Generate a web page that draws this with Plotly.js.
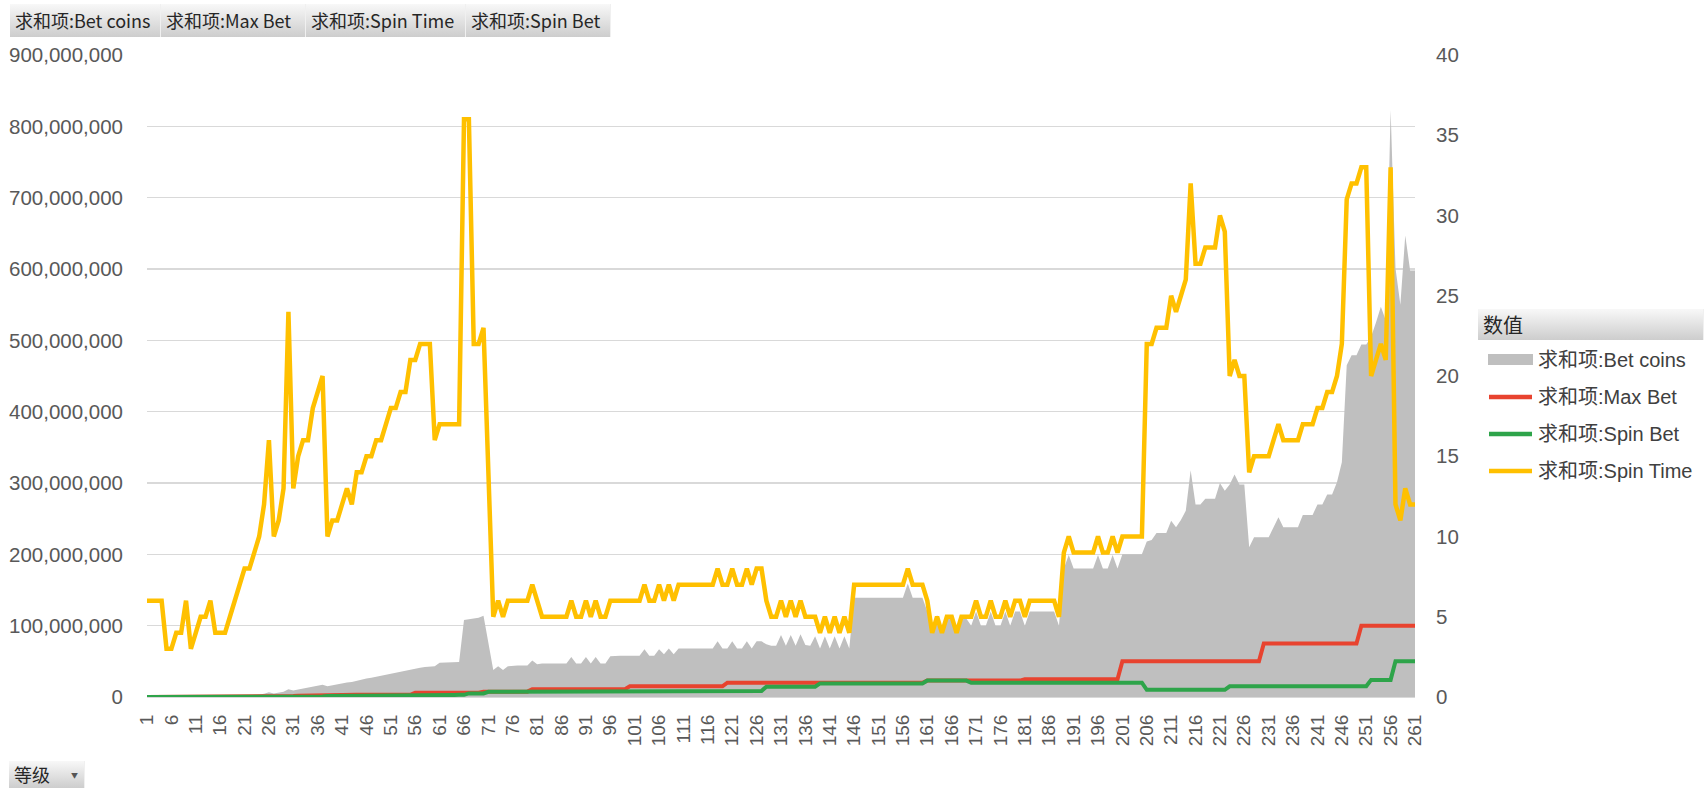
<!DOCTYPE html>
<html><head><meta charset="utf-8">
<script src="https://cdn.plot.ly/plotly-3.0.1.min.js"></script>
<style>
html,body{margin:0;padding:0;background:#fff;}
#wrap{position:relative;width:1704px;height:788px;overflow:hidden;}
#chart{position:absolute;left:0;top:0;width:1704px;height:788px;}
.btn{position:absolute;box-sizing:border-box;background:linear-gradient(#f8f8f8,#cdcdcd);border-right:1px solid #f0f0f0;font-family:"Noto Sans CJK SC","Liberation Sans",sans-serif;font-size:18px;color:#262626;padding-left:5px;white-space:nowrap;}
</style></head>
<body><div id="wrap"><div id="chart"></div>
<div class="btn" style="left:10px;top:4px;width:151px;height:33px;line-height:33px;">求和项:Bet coins</div>
<div class="btn" style="left:161px;top:4px;width:145px;height:33px;line-height:33px;">求和项:Max Bet</div>
<div class="btn" style="left:306px;top:4px;width:160px;height:33px;line-height:33px;">求和项:Spin Time</div>
<div class="btn" style="left:466px;top:4px;width:145px;height:33px;line-height:33px;">求和项:Spin Bet</div>
<div class="btn" style="left:1478px;top:309px;width:226px;height:31px;line-height:31px;font-size:20px;">数值</div>
<div class="btn" style="left:9px;top:761px;width:76px;height:27px;line-height:27px;">等级<span style="position:absolute;left:62px;top:1px;font-size:7px;color:#555;">▼</span></div>
</div>
<script>
// categories: levels 1..261
const levels = [];
for (let i = 1; i <= 261; i++) levels.push(i);
const tickVals = [];
for (let i = 1; i <= 261; i += 5) tickVals.push(i);
const tickText = tickVals.map(String);

const seriesNames = ['求和项:Bet coins', '求和项:Max Bet', '求和项:Spin Bet', '求和项:Spin Time'];
const seriesColors = ['#bfbfbf', '#e8432f', '#2ea44a', '#ffc000'];

// Bet coins (millions)
const betCoinsM = [
0.3,0.3,0.3,0.4,0.2,0.2,0.3,0.3,0.5,0.3,
0.4,0.5,0.6,0.7,0.5,0.6,0.7,0.9,1.1,1.4,
1.8,2.2,2.8,3.5,4.5,6.5,5,6,7.5,11,
9,10.5,12,13,14.5,16,17,15,16.5,17.5,
19,20.5,21,23,24,26,27,28.5,29.5,31,
33,34,35.5,37,38.5,40,41,42,42.5,43,
48,48,48.5,49,49,108,109,110,111,114,
75,38,43,38,43,44,44,44,44,51,
46,47,47,47,47,47,47,56,47,47,
56,47,56,47,47,57,58,58,58,58,
58,58,67,58,58,67,60,68,60,68,
68,68,68,68,68,68,68,78,68,68,
78,68,68,78,68,78,78,74,72,72,
87,72,87,72,88,73,72,85,68,85,
68,85,68,85,68,139,139,139,139,139,
139,139,139,139,139,139,159,139,139,139,
120,96,115,96,115,115,96,110,110,100,
120,100,100,120,100,100,120,100,120,120,
100,120,120,120,120,120,120,100,180,199,
180,180,180,180,180,199,180,180,199,180,
200,200,200,200,200,218,220,230,230,230,
247,238,248,261,318,270,270,278,278,278,
300,289,298,312,298,298,210,224,224,224,
224,238,252,238,238,238,238,255,255,255,
270,270,284,284,301,329,465,479,479,494,
494,505,525,547,528,823,601,550,647,598,598];

// Max Bet (millions)
const maxBetM = [
0.1,0.1,0.1,0.1,0.1,0.1,0.1,0.1,0.1,0.1,
0.2,0.2,0.2,0.2,0.2,0.2,0.2,0.2,0.2,0.2,
0.5,0.5,0.6,0.7,0.8,1,1,1.2,1.3,1.5,
1.5,1.8,2,2,2,2.2,2.4,2.5,2.5,2.5,
3,3,3,3,3,3,3,3,3,3,
3,3,3,3,3,6,6,6,6,6,
6,6,6,6,6,6,6,6,6,7.5,
7.5,7.5,7.5,7.5,7.5,7.5,7.5,7.5,7.5,11,
11,11,11,11,11,11,11,11,11,11,
11,11,11,11,11,11,11,11,11,15,
15,15,15,15,15,15,15,15,15,15,
15,15,15,15,15,15,15,15,15,20,
20,20,20,20,20,20,20,20,20,20,
20,20,20,20,20,20,20,20,20,20,
20,20,20,20,20,20,20,20,20,20,
20,20,20,20,20,20,20,20,20,20,
23,23,23,23,23,23,23,23,23,23,
23,23,23,23,23,23,23,23,23,23,
25,25,25,25,25,25,25,25,25,25,
25,25,25,25,25,25,25,25,25,25,
50,50,50,50,50,50,50,50,50,50,
50,50,50,50,50,50,50,50,50,50,
50,50,50,50,50,50,50,50,50,75,
75,75,75,75,75,75,75,75,75,75,
75,75,75,75,75,75,75,75,75,100,
100,100,100,100,100,100,100,100,100,100,100];

// Spin Bet (millions)
const spinBetM = [
0.05,0.05,0.05,0.05,0.05,0.05,0.05,0.05,0.05,0.05,
0.12,0.12,0.12,0.12,0.12,0.12,0.12,0.12,0.25,0.25,
0.25,0.25,0.25,0.25,0.5,0.5,0.5,0.5,0.5,0.8,
0.8,0.8,0.8,0.8,0.8,0.8,0.8,1.5,1.5,1.5,
1.5,1.5,1.5,1.5,1.5,1.5,1.5,1.5,1.5,2,
2,2,2,2,2,2,2,2,2,2.8,
2.8,2.8,2.8,2.8,3,3,5,5,5,5,
7.3,7.3,7.3,7.3,7.3,7.3,7.3,7.3,7.3,7.3,
8.5,8.5,8.5,8.5,8.5,8.5,8.5,8.5,8.5,8.5,
8.5,8.5,8.5,8.5,8.5,8.5,8.5,8.5,8.5,8.5,
8.5,8.5,8.5,8.5,8.5,8.5,8.5,8.5,8.5,8.5,
8.5,8.5,8.5,8.5,8.5,8.5,8.5,8.5,8.5,8.5,
8.5,8.5,8.5,8.5,8.5,8.5,8.5,14.5,14.5,14.5,
14.5,14.5,14.5,14.5,14.5,14.5,14.5,14.5,19,19,
19,19,19,19,19,19,19,19,19,19,
19,19,19,19,19,19,19,19,19,19,
23,23,23,23,23,23,23,23,23,20,
20,20,20,20,20,20,20,20,20,20,
20,20,20,20,20,20,20,20,20,20,
20,20,20,20,20,20,20,20,20,20,
20,20,20,20,20,10,10,10,10,10,
10,10,10,10,10,10,10,10,10,10,
10,10,15,15,15,15,15,15,15,15,
15,15,15,15,15,15,15,15,15,15,
15,15,15,15,15,15,15,15,15,15,
15,24,24,24,24,24,50,50,50,50,50];

// Spin Time
const spinTime = [
6,6,6,6,3,3,4,4,6,3,
4,5,5,6,4,4,4,5,6,7,
8,8,9,10,12,16,10,11,13,24,
13,15,16,16,18,19,20,10,11,11,
12,13,12,14,14,15,15,16,16,17,
18,18,19,19,21,21,22,22,22,16,
17,17,17,17,17,36,36,22,22,23,
14,5,6,5,6,6,6,6,6,7,
6,5,5,5,5,5,5,6,5,5,
6,5,6,5,5,6,6,6,6,6,
6,6,7,6,6,7,6,7,6,7,
7,7,7,7,7,7,7,8,7,7,
8,7,7,8,7,8,8,6,5,5,
6,5,6,5,6,5,5,5,4,5,
4,5,4,5,4,7,7,7,7,7,
7,7,7,7,7,7,8,7,7,7,
6,4,5,4,5,5,4,5,5,5,
6,5,5,6,5,5,6,5,6,6,
5,6,6,6,6,6,6,5,9,10,
9,9,9,9,9,10,9,9,10,9,
10,10,10,10,10,22,22,23,23,23,
25,24,25,26,32,27,27,28,28,28,
30,29,20,21,20,20,14,15,15,15,
15,16,17,16,16,16,16,17,17,17,
18,18,19,19,20,22,31,32,32,33,
33,20,21,22,21,33,12,11,13,12,12];

const M = 1e6;
const toUnits = a => a.map(v => v * M);
const FONT = '"Liberation Sans","Noto Sans CJK SC",Arial,sans-serif';

// plot area geometry (pixels)
const W = 1704, H = 788, ML = 147, MR = 289, MT = 55, MB = 91;
const PW = W - ML - MR, PH = H - MT - MB;
const px = x => (x - ML) / PW;
const py = y => (H - MB - y) / PH;

const traces = [
  {name:seriesNames[0], x:levels, y:toUnits(betCoinsM), type:'scatter', mode:'lines',
   fill:'tozeroy', fillcolor:seriesColors[0], line:{color:seriesColors[0], width:0}},
  {name:seriesNames[1], x:levels, y:toUnits(maxBetM), type:'scatter', mode:'lines',
   line:{color:seriesColors[1], width:4}},
  {name:seriesNames[2], x:levels, y:toUnits(spinBetM), type:'scatter', mode:'lines',
   line:{color:seriesColors[2], width:4}},
  {name:seriesNames[3], x:levels, y:spinTime, type:'scatter', mode:'lines', yaxis:'y2',
   line:{color:seriesColors[3], width:4.5}}
];

// legend drawn as shapes + annotations (Excel-style legend box)
const legendRows = [360, 397, 434, 471];
const shapes = [];
const annotations = [];
legendRows.forEach((ry, k) => {
  if (k === 0) {
    shapes.push({type:'rect', xref:'paper', yref:'paper', x0:px(1488), x1:px(1533), y0:py(ry+5), y1:py(ry-6),
      fillcolor:seriesColors[0], line:{width:0}});
  } else {
    shapes.push({type:'line', xref:'paper', yref:'paper', x0:px(1489), x1:px(1532), y0:py(ry), y1:py(ry),
      line:{color:seriesColors[k], width:4.5}});
  }
  annotations.push({xref:'paper', yref:'paper', x:px(1536), y:py(ry), xanchor:'left', yanchor:'middle',
    showarrow:false, text:seriesNames[k], font:{size:20, color:'#404040', family:FONT}});
});

const layout = {
  width:W, height:H,
  margin:{l:ML, r:MR, t:MT, b:MB},
  paper_bgcolor:'#ffffff', plot_bgcolor:'#ffffff',
  font:{family:FONT, color:'#595959'},
  showlegend:false,
  xaxis:{type:'linear', range:[1,261], tickvals:tickVals, ticktext:tickText, tickangle:-90,
    tickfont:{size:19, color:'#595959', family:FONT}, showgrid:false, zeroline:false, automargin:false,
    showline:true, linecolor:'#d9d9d9', linewidth:1, ticks:'', ticklabelstandoff:9, fixedrange:true},
  yaxis:{range:[0,900e6], dtick:100e6, tick0:0, tickformat:',d', tickfont:{size:20.5, color:'#595959', family:FONT},
    showgrid:true, gridcolor:'#d9d9d9', gridwidth:1.3, zeroline:false, ticks:'', ticklabelstandoff:23, automargin:false, fixedrange:true},
  yaxis2:{overlaying:'y', side:'right', range:[0,40], dtick:5, tick0:0, tickfont:{size:20.5, color:'#595959', family:FONT},
    showgrid:false, zeroline:false, ticks:'', ticklabelstandoff:20, automargin:false, fixedrange:true},
  shapes:shapes,
  annotations:annotations,
  hovermode:false
};

Plotly.newPlot('chart', traces, layout, {displayModeBar:false, staticPlot:true});
</script>
</body></html>
